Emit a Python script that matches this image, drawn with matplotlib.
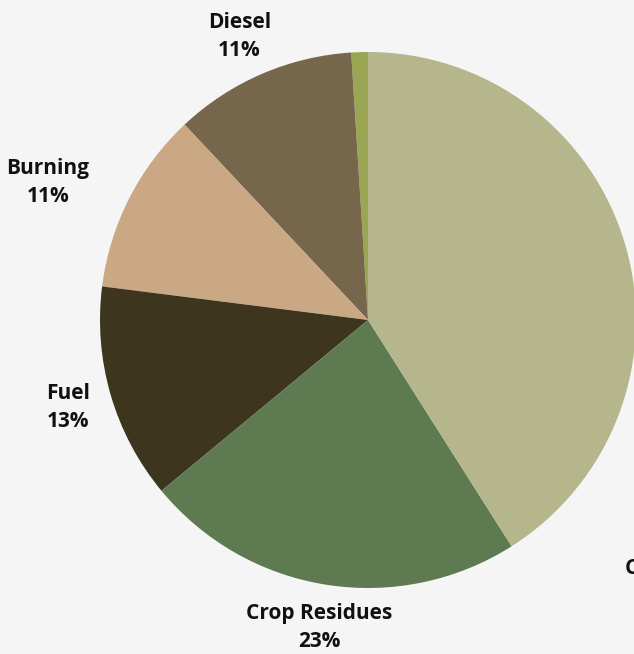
import numpy as np
import matplotlib.pyplot as plt

plt.rcParams['font.family'] = ['Open Sans', 'DejaVu Sans']

labels = ['', 'Diesel', 'Burning', 'Fuel', 'Crop Residues', 'Chemical Fertilizers']
shares = [1, 11, 11, 13, 23, 41]
colors = ['#9aa653', '#76664b', '#c9a883', '#3d351e', '#5d7a51', '#b5b68c']
# label radius in units of pie radius, and angle override (None = wedge middle)
label_r = [None, 1.163, 1.299, 1.167, 1.163, 1.37]
label_ang = [None, 114.4, 156.8, None, None, -45.6]
label_ha = [None, 'center', 'center', 'center', 'center', 'left']

W, H = 634, 654
cx, cy, R = 368, 320, 268

fig = plt.figure(figsize=(W / 100, H / 100), dpi=100, facecolor='#f5f5f5')
ax = fig.add_axes([0, 0, 1, 1])
ax.set_facecolor('#f5f5f5')

wedges, _ = ax.pie(shares, colors=colors, startangle=90, counterclock=True,
                   radius=R, wedgeprops=dict(linewidth=0))

ax.set_xlim(-cx, W - cx)
ax.set_ylim(-(H - cy), cy)
ax.set_aspect('equal')
ax.axis('off')

for w, lab, s, r, ang, ha in zip(wedges, labels, shares, label_r, label_ang, label_ha):
    if not lab:
        continue
    a = (w.theta1 + w.theta2) / 2 if ang is None else ang
    x = r * R * np.cos(np.radians(a))
    y = r * R * np.sin(np.radians(a))
    ax.text(x, y, f'{lab}\n{s}%', ha=ha, va='center', multialignment='center',
            fontsize=15, fontweight='bold', color='#111111', linespacing=1.45)

fig.savefig('out.png', dpi=100, facecolor=fig.get_facecolor())
